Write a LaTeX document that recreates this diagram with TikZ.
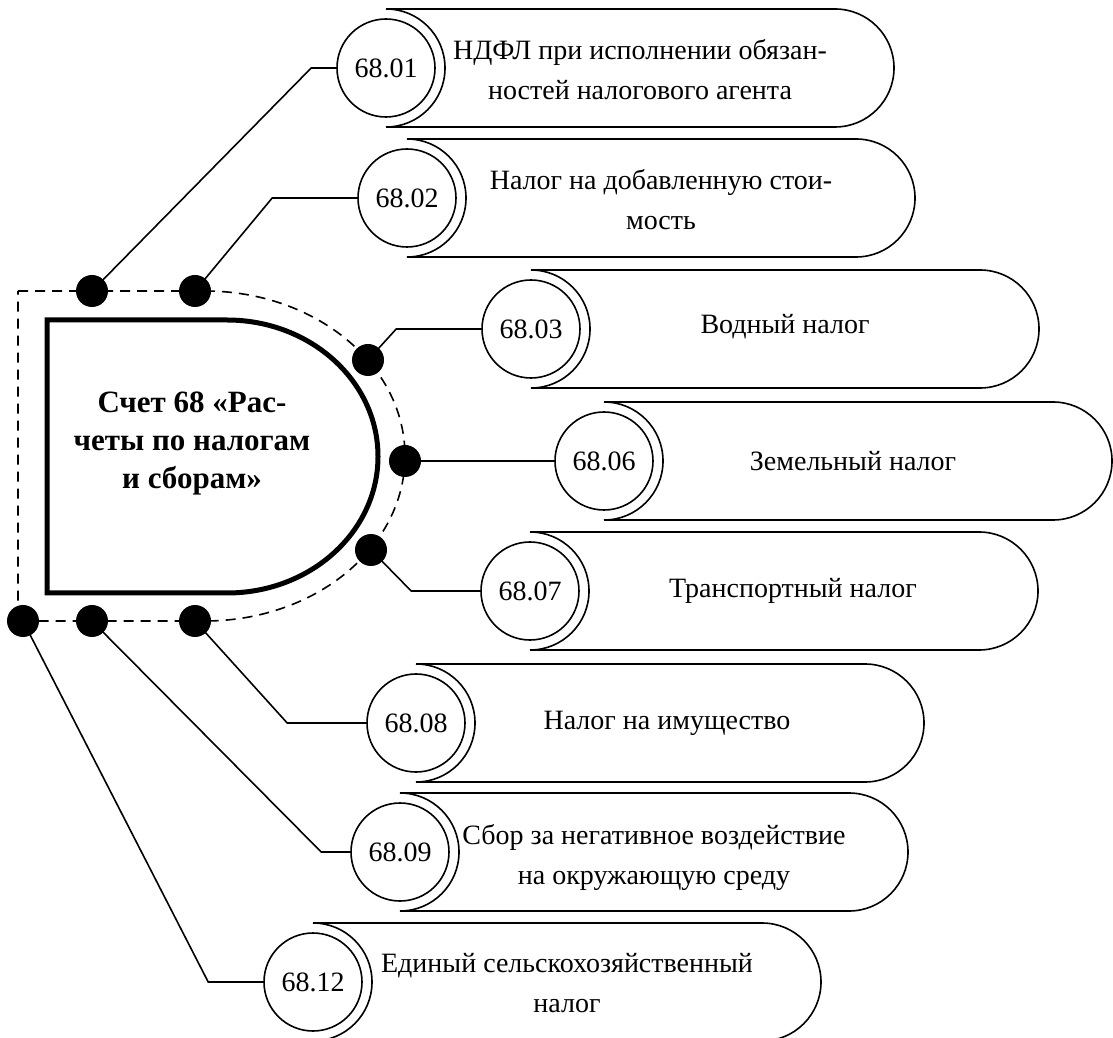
\documentclass[tikz,border=0pt]{standalone}
\usepackage{fontspec}
\setmainfont{Liberation Serif}
\pgfdeclarelayer{edgelayer}
\pgfdeclarelayer{nodelayer}
\pgfsetlayers{edgelayer,nodelayer,main}
\tikzstyle{none} = [align=center, font=\fontsize{28}{40}\selectfont]
\tikzstyle{title} = [align=center, font=\bfseries\fontsize{31}{38}\selectfont]
\tikzstyle{tax box} = [line width=1.6pt]
\tikzstyle{code} = [draw, circle, fill=white, line width=1.6pt, minimum size=98pt, inner sep=0pt, font=\fontsize{28}{36}\selectfont]
\tikzstyle{joint} = [circle, fill=black, minimum size=32pt, inner sep=0pt]
\tikzstyle{link} = [line width=1.6pt]
\tikzstyle{thick frame} = [line width=5pt]
\tikzstyle{dashed frame} = [line width=1.6pt, dash pattern=on 10pt off 7pt]

\begin{document}
\begin{tikzpicture}[x=1pt, y=1pt]
	\useasboundingbox (0,0) rectangle (1113,1037);
	\begin{pgfonlayer}{nodelayer}
		\node [style=title] (0) at (192, 594) {Счет 68 «Рас-\\четы по налогам\\и сборам»};
		\node [style=joint] (1) at (92, 746) {};
		\node [style=joint] (2) at (195, 746) {};
		\node [style=joint] (3) at (368, 677) {};
		\node [style=joint] (4) at (405, 576) {};
		\node [style=joint] (5) at (371, 487) {};
		\node [style=joint] (6) at (23, 416) {};
		\node [style=joint] (7) at (92, 416) {};
		\node [style=joint] (8) at (195, 416) {};
		\node [style=code] (21) at (386, 969) {68.01};
		\node [style=code] (22) at (407, 839) {68.02};
		\node [style=code] (23) at (531, 708) {68.03};
		\node [style=code] (24) at (604, 576) {68.06};
		\node [style=code] (25) at (530, 446) {68.07};
		\node [style=code] (26) at (416, 314) {68.08};
		\node [style=code] (27) at (400, 185) {68.09};
		\node [style=code] (28) at (313, 55) {68.12};
		\node [style=none] (31) at (640, 967) {НДФЛ при исполнении обязан-\\ностей налогового агента};
		\node [style=none] (32) at (661, 837) {Налог на добавленную стои-\\мость};
		\node [style=none] (33) at (785, 710) {Водный налог};
		\node [style=none] (34) at (853, 576) {Земельный налог};
		\node [style=none] (35) at (793, 446) {Транспортный налог};
		\node [style=none] (36) at (667, 314) {Налог на имущество};
		\node [style=none] (37) at (654, 180) {Сбор за негативное воздействие\\на окружающую среду};
		\node [style=none] (38) at (567, 54) {Единый сельскохозяйственный\\налог};
	\end{pgfonlayer}
	\begin{pgfonlayer}{edgelayer}
		\draw [style=thick frame] (47, 717) -- (227, 717) arc [start angle=90, end angle=-90, x radius=151, y radius=136.5] -- (47, 444) -- cycle;
		\draw [style=dashed frame] (18, 746) -- (205, 746) arc [start angle=90, end angle=-90, x radius=200, y radius=165] -- (18, 416) -- cycle;
		\draw [style=tax box] ([yshift=59pt]21.center) -- ++(449, 0) arc [start angle=90, end angle=-90, radius=59] -- ++(-449, 0) arc [start angle=-90, end angle=90, radius=59] -- cycle;
		\draw [style=tax box] ([yshift=59pt]22.center) -- ++(449, 0) arc [start angle=90, end angle=-90, radius=59] -- ++(-449, 0) arc [start angle=-90, end angle=90, radius=59] -- cycle;
		\draw [style=tax box] ([yshift=59pt]23.center) -- ++(449, 0) arc [start angle=90, end angle=-90, radius=59] -- ++(-449, 0) arc [start angle=-90, end angle=90, radius=59] -- cycle;
		\draw [style=tax box] ([yshift=59pt]24.center) -- ++(449, 0) arc [start angle=90, end angle=-90, radius=59] -- ++(-449, 0) arc [start angle=-90, end angle=90, radius=59] -- cycle;
		\draw [style=tax box] ([yshift=59pt]25.center) -- ++(449, 0) arc [start angle=90, end angle=-90, radius=59] -- ++(-449, 0) arc [start angle=-90, end angle=90, radius=59] -- cycle;
		\draw [style=tax box] ([yshift=59pt]26.center) -- ++(449, 0) arc [start angle=90, end angle=-90, radius=59] -- ++(-449, 0) arc [start angle=-90, end angle=90, radius=59] -- cycle;
		\draw [style=tax box] ([yshift=59pt]27.center) -- ++(449, 0) arc [start angle=90, end angle=-90, radius=59] -- ++(-449, 0) arc [start angle=-90, end angle=90, radius=59] -- cycle;
		\draw [style=tax box] ([yshift=59pt]28.center) -- ++(449, 0) arc [start angle=90, end angle=-90, radius=59] -- ++(-449, 0) arc [start angle=-90, end angle=90, radius=59] -- cycle;
		\draw [style=link] (1.center) -- ([xshift=-25pt]21.west) -- (21.west);
		\draw [style=link] (2.center) -- ([xshift=-85pt]22.west) -- (22.west);
		\draw [style=link] (3.center) -- ([xshift=-85pt]23.west) -- (23.west);
		\draw [style=link] (4.center) -- (24.west);
		\draw [style=link] (5.center) -- ([xshift=-69pt]25.west) -- (25.west);
		\draw [style=link] (8.center) -- ([xshift=-79pt]26.west) -- (26.west);
		\draw [style=link] (7.center) -- ([xshift=-29pt]27.west) -- (27.west);
		\draw [style=link] (6.center) -- ([xshift=-55pt]28.west) -- (28.west);
	\end{pgfonlayer}
\end{tikzpicture}
\end{document}
